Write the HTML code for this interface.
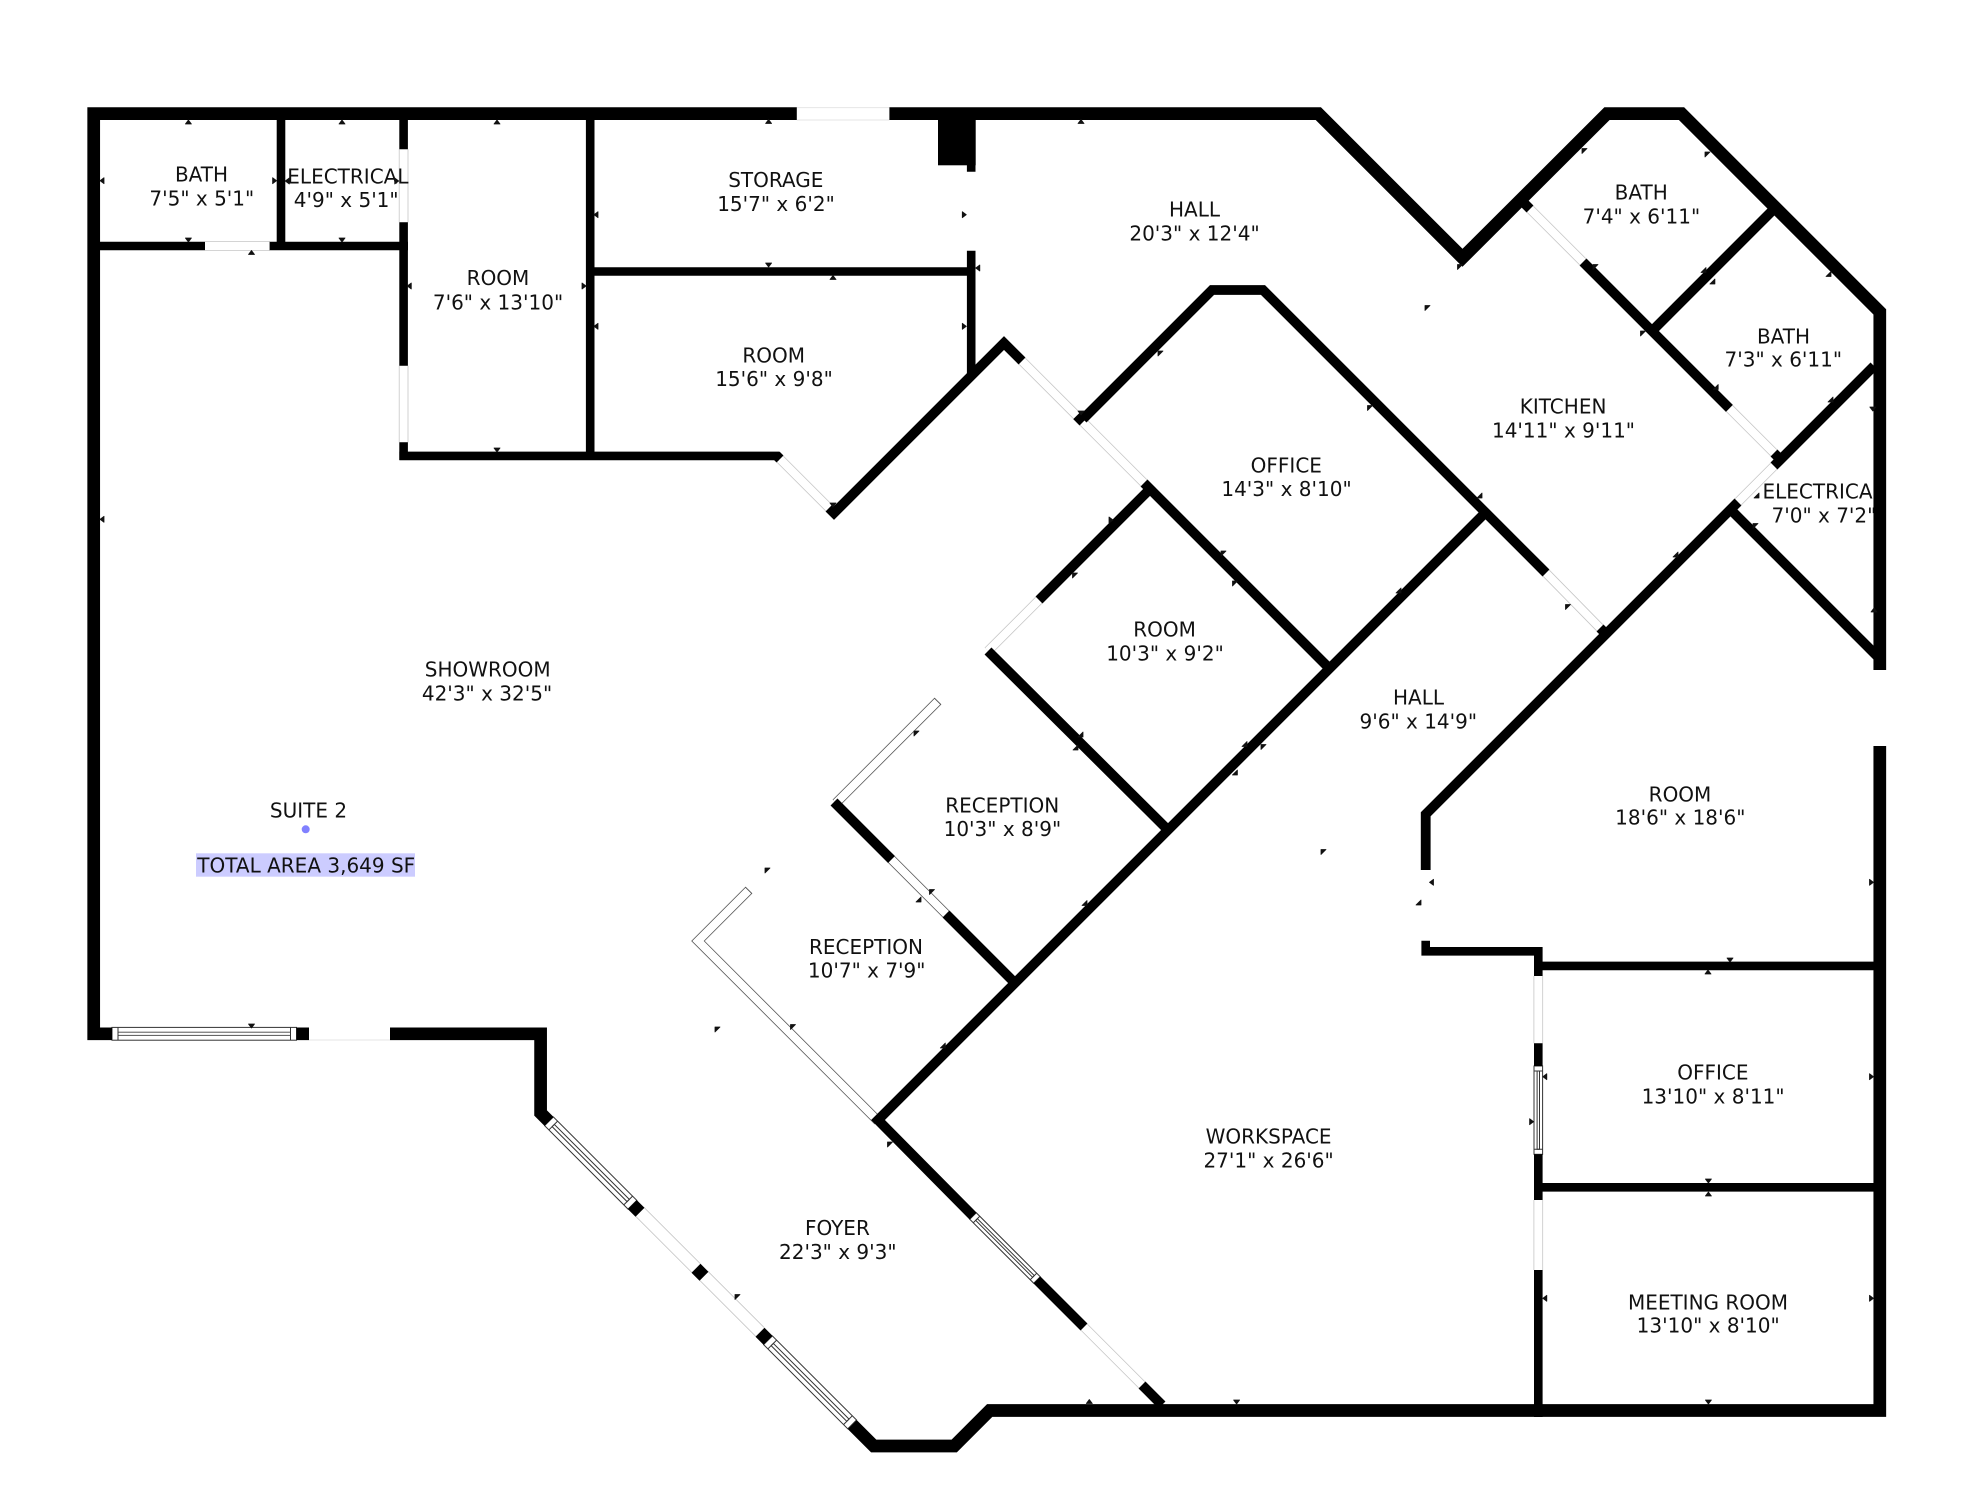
<!DOCTYPE html>
<html lang="en">
<head>
<meta charset="utf-8">
<title>Floor plan - Suite 2</title>
<style>
html,body{margin:0;padding:0;background:#fff;width:1986px;height:1500px;overflow:hidden}
svg{display:block}
text{font-family:"DejaVu Sans","Liberation Sans",sans-serif;font-size:20px;fill:#111;text-anchor:middle}
.s{text-anchor:start}
</style>
</head>
<body>
<svg width="1986" height="1500" viewBox="0 0 1986 1500" xmlns="http://www.w3.org/2000/svg">
<rect width="1986" height="1500" fill="#fff"/>

<!-- faint exterior openings -->
<path d="M796.8 107.6H889.4M796.8 120H889.4M309 1040H390M1879.8 670" fill="none" stroke="#e6e6e6" stroke-width="1"/>

<!-- doors -->
<g fill="none">
<path stroke="#c6c6c6" stroke-width="9.6" d="M205 246H270M403.6 149.3V222.3M403.6 365.7V442.3M780 459L829 508M1022 361L1076.7 415.7M1083 422L1144 483M988 651L1039 600M1530 209L1583 262M1729.4 408.4L1774 453M1738 502L1774 466M1546 573L1600 628M1538.3 976V1043.3M1538.3 1200V1270M1084 1327L1142 1385"/>
<path stroke="#fff" stroke-width="8" d="M205 246H270M403.6 149.3V222.3M403.6 365.7V442.3M780 459L829 508M1022 361L1076.7 415.7M1083 422L1144 483M988 651L1039 600M1530 209L1583 262M1729.4 408.4L1774 453M1738 502L1774 466M1546 573L1600 628M1538.3 976V1043.3M1538.3 1200V1270M1084 1327L1142 1385"/>
<path stroke="#c6c6c6" stroke-width="13" d="M640 1212L696 1268M704 1276L760 1332"/>
<path stroke="#fff" stroke-width="11.4" d="M640 1212L696 1268M704 1276L760 1332"/>
<path stroke="#555" stroke-width="9.6" d="M891.5 859.5L946 914M749 890L698 941L878 1121M938 701L836 803"/>
<path stroke="#fff" stroke-width="8" d="M891.5 859.5L946 914M748.3 890.7L698 941L878 1121M937.3 701.7L836 803"/>
</g>

<!-- windows -->
<g fill="#fff" stroke="#333" stroke-width="1">
<g transform="translate(112,1033.8)"><rect y="-6.4" width="184.5" height="12.8"/><rect x="6" y="-1.6" width="172.5" height="3.2" fill="none" stroke="#555"/><path d="M6-6.4V6.4M178.5-6.4V6.4"/></g>
<g transform="translate(549,1121.3) rotate(45)"><rect y="-6.2" width="118" height="12.4"/><rect x="6" y="-1.6" width="106" height="3.2" fill="none"/><path d="M6-6.2V6.2M112-6.2V6.2"/></g>
<g transform="translate(768,1340.3) rotate(45)"><rect y="-6.2" width="119" height="12.4"/><rect x="6" y="-1.6" width="107" height="3.2" fill="none"/><path d="M6-6.2V6.2M113-6.2V6.2"/></g>
<g transform="translate(973,1216) rotate(45)"><rect y="-4.6" width="90.5" height="9.2"/><rect x="5" y="-1.2" width="80.5" height="2.4" fill="none"/><path d="M5-4.6V4.6M85.5-4.6V4.6"/></g>
<g transform="translate(1538.3,1066) rotate(90)"><rect y="-4.3" width="88.3" height="8.6"/><rect x="5" y="-1.2" width="78.3" height="2.4" fill="none"/><path d="M5-4.3V4.3M83.3-4.3V4.3"/></g>
</g>

<!-- labels -->
<text x="201.5" y="181.7">BATH</text><text x="201.8" y="205.7">7'5" x 5'1"</text>
<text x="347.9" y="183.3">ELECTRICAL</text><text x="346.2" y="207">4'9" x 5'1"</text>
<text x="498" y="285">ROOM</text><text x="498" y="309.3">7'6" x 13'10"</text>
<text x="775.8" y="187">STORAGE</text><text x="776" y="211">15'7" x 6'2"</text>
<text x="773.7" y="362.7">ROOM</text><text x="774" y="386">15'6" x 9'8"</text>
<text x="1194.5" y="216.7">HALL</text><text x="1194.5" y="240.7">20'3" x 12'4"</text>
<text x="1286.3" y="472.7">OFFICE</text><text x="1286.5" y="496">14'3" x 8'10"</text>
<text x="1641.2" y="199.3">BATH</text><text x="1641.4" y="223.3">7'4" x 6'11"</text>
<text x="1783.5" y="343.3">BATH</text><text x="1783.3" y="366.7">7'3" x 6'11"</text>
<text x="1563.1" y="413.3">KITCHEN</text><text x="1563.5" y="437.3">14'11" x 9'11"</text>
<text class="s" x="1762.5" y="498.3">ELECTRICAL</text><text class="s" x="1771.5" y="522.7">7'0" x 7'2"</text>
<text x="1164.6" y="636.7">ROOM</text><text x="1165" y="660.7">10'3" x 9'2"</text>
<text x="1002.2" y="812.7">RECEPTION</text><text x="1002.4" y="836">10'3" x 8'9"</text>
<text x="866" y="954">RECEPTION</text><text x="866.7" y="977.7">10'7" x 7'9"</text>
<text x="1418.5" y="704.3">HALL</text><text x="1418.3" y="728.3">9'6" x 14'9"</text>
<text x="1680" y="801.7">ROOM</text><text x="1680.3" y="824.3">18'6" x 18'6"</text>
<text x="1268.6" y="1143.3">WORKSPACE</text><text x="1268.6" y="1167.3">27'1" x 26'6"</text>
<text x="837.4" y="1235">FOYER</text><text x="837.8" y="1259">22'3" x 9'3"</text>
<text x="1712.9" y="1079.3">OFFICE</text><text x="1713.1" y="1103.3">13'10" x 8'11"</text>
<text x="1708" y="1309.3">MEETING ROOM</text><text x="1708.2" y="1332.7">13'10" x 8'10"</text>
<text x="487.7" y="676.7">SHOWROOM</text><text x="487" y="700.7">42'3" x 32'5"</text>
<text x="308.5" y="817.3">SUITE 2</text>
<circle cx="305.7" cy="829.3" r="4" fill="#8080ff"/>
<rect x="196" y="853.3" width="219" height="23.4" fill="#ccccff"/>
<text class="s" x="197.3" y="872.7">TOTAL AREA 3,649 SF</text>

<!-- exterior walls -->
<g fill="none" stroke="#000" stroke-width="12.7" stroke-linejoin="miter" stroke-miterlimit="8">
<path d="M112 1033.8H93.7V113.6H796.8"/>
<path d="M889.4 113.6H1318.3L1462.5 257.8L1607 113.6H1681.5L1879.8 311.9V670"/>
<path d="M1879.8 746V1410.5H989.7L954.2 1446H873.7L852.3 1424.6"/>
<path d="M296.5 1033.8H309M390 1033.8H540.6V1113L549 1121.4"/>
<path d="M632.3 1204.6L640 1212.3M696 1268.3L704 1276.3M760 1332.3L768 1340.3"/>
</g>
<rect x="938" y="118" width="37.7" height="47.3" fill="#000"/>

<!-- interior orthogonal walls -->
<g fill="none" stroke="#000" stroke-width="8.6" stroke-linejoin="miter" stroke-miterlimit="8">
<path d="M281 114V246M100 246H205M269.6 246H408"/>
<path d="M403.6 114V149.3M403.6 222.3V365.7M403.6 442.3V460"/>
<path d="M399.4 455.9H779M590.2 114V455.9"/>
<path d="M590 271.5H971M971.2 114V171.7M971.2 250.7V375"/>
<path d="M1425.7 940.7V951.3H1538.3V976M1534 965.9H1886"/>
<path d="M1538.3 1043.3V1066M1538.3 1154.3V1200M1538.3 1270V1417M1534 1187.3H1886"/>
</g>

<!-- interior diagonal walls -->
<g fill="none" stroke="#000" stroke-width="9.8" stroke-linejoin="miter" stroke-miterlimit="8">
<path d="M776 455L780 459"/>
<path d="M829 508L834 513L1004 343L1022 361"/>
<path d="M1076.7 415.7L1083 422"/>
<path d="M1083 419L1212 290H1263L1546 573"/>
<path d="M1144 483L1329.5 668.5"/>
<path d="M1484 514L878 1120L973 1216"/>
<path d="M1037 1280L1084 1327M1142 1385L1162 1405"/>
<path d="M834 802L891.5 859.5M946 914L1015 983"/>
<path d="M988 651L1168 830M1039 600L1148 491"/>
<path d="M1521 200L1530 209M1583 262L1729.4 408.4M1774 453L1779 458"/>
<path d="M1774 466L1779 461L1874 366"/>
<path d="M1600 628L1606 634"/>
<path d="M1425.7 870V814.3L1738 502"/>
<path d="M1730.5 509.5L1880 659"/>
<path d="M1653 330L1775.5 207.5"/>
</g>

<!-- dimension ticks -->
<g fill="#111" stroke="#111" stroke-width="0.8" stroke-linejoin="round">
<path d="M188.4 120l3 4h-6zM342 120l3 4h-6zM497 120l3 4h-6zM251.5 250.5l3 4h-6zM768.6 119.5l3 4h-6zM833 275.5l3 4h-6zM1081 119.5l3 4h-6zM1708 970l3 4h-6zM1708.4 1192l3 4h-6zM1089.3 1399.5l3 4h-6zM1874 608l3 4h-6z"/>
<path d="M188.4 242l3-4h-6zM342 242l3-4h-6zM497 452l3-4h-6zM768.6 267l3-4h-6zM1730 962l3-4h-6zM1708.4 1183l3-4h-6zM1708.4 1404l3-4h-6zM1236.6 1404l3-4h-6zM251.5 1028l3-4h-6zM1872.8 411l3-4h-6zM833 507l3-4h-6zM1081 415l3-4h-6z"/>
<path d="M100 180.7l4-3v6zM285.3 181l4-3v6zM407.3 286l4-3v6zM594 214.7l4-3v6zM594 326.3l4-3v6zM100 519.3l4-3v6zM975.8 268l4-3v6zM1429.5 882.3l4-3v6zM1542.8 1076.7l4-3v6zM1542.8 1298.3l4-3v6z"/>
<path d="M276.6 180.7l-4-3v6zM398.7 181l-4-3v6zM586 286l-4-3v6zM966.3 214.7l-4-3v6zM966.3 326.3l-4-3v6zM1873.5 882.3l-4-3v6zM1873.5 1076.7l-4-3v6zM1533.6 1121.7l-4-3v6zM1873.5 1298.3l-4-3v6zM1113 520l-4-3v6z"/>
<path d="M1158 351h5l-5 5zM1582 148.5h5l-5 5zM1705 152h5l-5 5zM1457.5 264.5h5l-5 5zM1425 305.5h5l-5 5zM1593 264.5h5l-5 5zM1640.5 331h5l-5 5zM1367.5 405.5h5l-5 5zM1753 523.5h5l-5 5zM1072.5 573h5l-5 5zM1221 551h5l-5 5zM1232.5 581h5l-5 5zM765 868h5l-5 5zM1321 849.5h5l-5 5zM929.5 889.5h5l-5 5zM790.5 1024.5h5l-5 5zM715 1027h5l-5 5zM887.5 1142h5l-5 5zM735 1294.5h5l-5 5zM1565.5 604.5h5l-5 5zM1261 744.5h5l-5 5zM914 731h5l-5 5z"/>
<path d="M1706 272.5h-5l5-5zM1831 276.5h-5l5-5zM1718.2 389.5h-5l5-5zM1833 402h-5l5-5zM1482 498h-5l5-5zM1401 593h-5l5-5zM1678 557h-5l5-5zM1247 746.5h-5l5-5zM1237.4 775h-5l5-5zM1083 737h-5l5-5zM1078 750h-5l5-5zM945.3 1048h-5l5-5zM1087 905.5h-5l5-5zM921 902h-5l5-5zM1421 905h-5l5-5zM1714.9 284h-5l5-5zM1759 498h-5l5-5z"/>
</g>
</svg>
</body>
</html>
